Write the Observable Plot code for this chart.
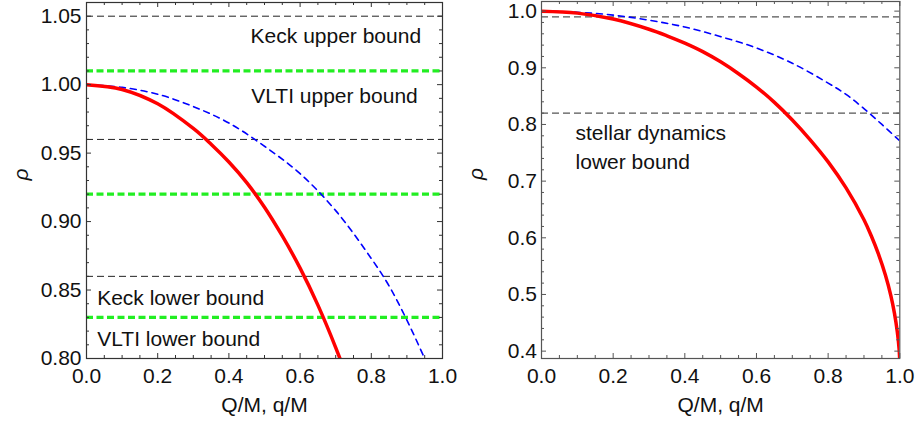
<!DOCTYPE html>
<html><head><meta charset="utf-8">
<script src="https://cdn.jsdelivr.net/npm/d3@7"></script>
<script src="https://cdn.jsdelivr.net/npm/@observablehq/plot@0.6"></script>
<style>
body{margin:0;background:#fff}
#c{display:flex;width:916px;height:434px}
</style>
</head><body><div id="c"></div>
<script>
// Red solid curve (rho vs Q/M)
const redX = [0, 0.1, 0.2, 0.3, 0.35, 0.4, 0.45, 0.5, 0.55, 0.6, 0.65, 0.7, 0.75, 0.8, 0.85, 0.9, 0.92, 0.94, 0.96, 0.975, 0.985, 0.993, 0.998, 1.0];
const redY = [1, 0.9965, 0.986, 0.968, 0.9565, 0.9435, 0.9285, 0.9105, 0.8895, 0.866, 0.839, 0.808, 0.773, 0.734, 0.688, 0.632, 0.604, 0.572, 0.534, 0.498, 0.467, 0.434, 0.404, 0.380];
// Blue dashed curve (rho vs q/M)
const blueX = [0, 0.1, 0.2, 0.3, 0.4, 0.5, 0.6, 0.7, 0.8, 0.85, 0.9, 0.95, 1.0];
const blueY = [1, 0.998, 0.993, 0.984, 0.972, 0.955, 0.935, 0.908, 0.873, 0.853, 0.828, 0.800, 0.771];

// Left panel bounds
const leftBlackBounds = [1.05, 0.96, 0.86];
const leftGreenBounds = [1.01, 0.92, 0.83];
const leftLabels = ["Keck upper bound", "VLTI upper bound", "Keck lower bound", "VLTI lower bound"];
const leftLabelX = [0.461, 0.4626, 0.030, 0.030];
const leftLabelY = [1.0355, 0.9917, 0.8437, 0.8142];
// Right panel bounds
const rightBlackBounds = [0.99, 0.82];
const rightLabels = ["stellar dynamics", "lower bound"];
const rightLabelX = [0.095, 0.095];
const rightLabelY = [0.7840, 0.7340];

// Ticks
const xMajor = [0, 0.2, 0.4, 0.6, 0.8, 1.0];
const xMinor = d3.range(0, 21).map(i => i * 0.05).filter((v, i) => i % 4 !== 0);
const leftYMajor = [0.80, 0.85, 0.90, 0.95, 1.00, 1.05];
const leftYMinor = d3.range(80, 106).map(i => i / 100).filter((v, i) => i % 5 !== 0);
const rightYMajor = [0.4, 0.5, 0.6, 0.7, 0.8, 0.9, 1.0];
const rightYMinor = d3.range(20, 51).map(i => i / 50).filter((v, i) => i % 5 !== 0);

const red = redX.map((x, i) => ({x, y: redY[i]}));
const blue = blueX.map((x, i) => ({x, y: blueY[i]}));

const FONT = "Liberation Sans, Arial, sans-serif";
const FS = 21;

function panel({width, height, mL, mR, mT, mB, yDomain, yMajor, yMinor, yFmt, yPad, extra, frameColor}) {
  const W = width - mL - mR, H = height - mT - mB;
  const tc = frameColor;
  const tickMarks = [
    Plot.tickX(xMajor, {x: d => d, insetTop: H - 5, stroke: tc}),
    Plot.tickX(xMajor, {x: d => d, insetBottom: H - 5, stroke: tc}),
    Plot.tickX(xMinor, {x: d => d, insetTop: H - 3, stroke: tc}),
    Plot.tickX(xMinor, {x: d => d, insetBottom: H - 3, stroke: tc}),
    Plot.tickY(yMajor, {y: d => d, insetRight: W - 5, stroke: tc}),
    Plot.tickY(yMajor, {y: d => d, insetLeft: W - 5, stroke: tc}),
    Plot.tickY(yMinor, {y: d => d, insetRight: W - 3, stroke: tc}),
    Plot.tickY(yMinor, {y: d => d, insetLeft: W - 3, stroke: tc})
  ];
  return Plot.plot({
    width, height,
    marginLeft: mL, marginRight: mR, marginTop: mT, marginBottom: mB,
    style: {fontFamily: FONT, fontSize: FS + "px", background: "#fff"},
    x: {domain: [0, 1]},
    y: {domain: yDomain},
    marks: [
      ...extra,
      Plot.line(blue, {x: "x", y: "y", stroke: "#0000ff", strokeWidth: 1.6, strokeDasharray: "6,5", curve: "catmull-rom", clip: true}),
      Plot.line(red, {x: "x", y: "y", stroke: "#ff0000", strokeWidth: 3.5, curve: "catmull-rom", clip: true}),
      Plot.frame({stroke: tc, strokeWidth: 1.2}),
      ...tickMarks,
      Plot.axisX({ticks: xMajor, tickSize: 0, tickPadding: 10, tickFormat: d3.format(".1f"), fontSize: FS, label: null, fill: "#111"}),
      Plot.axisY({ticks: yMajor, tickSize: 0, tickPadding: yPad, tickFormat: d3.format(yFmt), fontSize: FS, label: null, fill: "#111"}),
      Plot.text(["Q/M, q/M"], {frameAnchor: "bottom", dy: 53, fontSize: FS, fill: "#111"}),
      Plot.text(["ρ"], {frameAnchor: "left", rotate: -90, dx: -65, fontSize: FS, fontStyle: "italic", fill: "#111"})
    ]
  });
}

const left = panel({
  width: 458, height: 434, mL: 86, mR: 16, mT: 2, mB: 76,
  yDomain: [0.80, 1.06], yMajor: leftYMajor, yMinor: leftYMinor, yFmt: ".2f", yPad: 5,
  frameColor: "#333",
  extra: [
    Plot.ruleY(leftBlackBounds, {y: d => d, stroke: "#222", strokeWidth: 1, strokeDasharray: "7,4"}),
    Plot.ruleY(leftGreenBounds, {y: d => d, stroke: "#22ee22", strokeWidth: 3.2, strokeDasharray: "7,3.5"}),
    Plot.text(leftLabels, {x: (d, i) => leftLabelX[i], y: (d, i) => leftLabelY[i], text: d => d, textAnchor: "start", fontSize: FS, fill: "#111"})
  ]
});

const right = panel({
  width: 458, height: 434, mL: 83, mR: 16.7, mT: 1, mB: 76,
  yDomain: [0.387, 1.017], yMajor: rightYMajor, yMinor: rightYMinor, yFmt: ".1f", yPad: 4.5,
  frameColor: "#555",
  extra: [
    Plot.ruleY(rightBlackBounds, {y: d => d, stroke: "#555", strokeWidth: 1.2, strokeDasharray: "7,4"}),
    Plot.text(rightLabels, {x: (d, i) => rightLabelX[i], y: (d, i) => rightLabelY[i], text: d => d, textAnchor: "start", fontSize: FS, fill: "#111"})
  ]
});

document.getElementById("c").append(left, right);
</script>
</body></html>
